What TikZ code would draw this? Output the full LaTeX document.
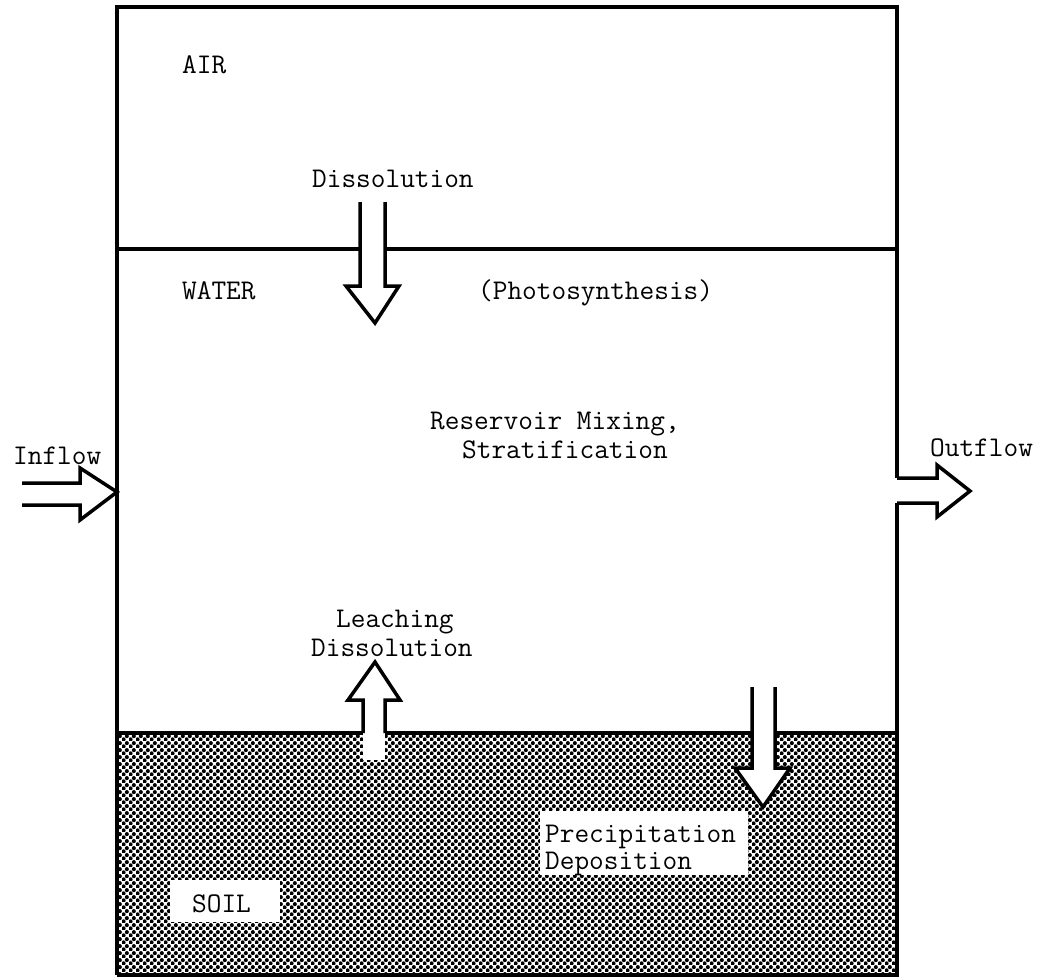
\documentclass[tikz,border=0pt]{standalone}
\usetikzlibrary{patterns.meta}
\tikzdeclarepattern{
  name=soildots,
  type=uncolored,
  bottom left={(0pt,0pt)},
  top right={(7.2pt,7.2pt)},
  tile size={(7.2pt,7.2pt)},
  code={
    \fill (1.8pt,1.8pt) circle (2.25pt);
    \fill (5.4pt,5.4pt) circle (2.25pt);
  }
}
\begin{document}
\begin{tikzpicture}[x=1pt,y=-1pt,
  lbl/.style={font=\ttfamily\fontsize{28.5}{33}\selectfont, inner sep=0pt, anchor=base west},
  edge/.style={line width=3.2pt},
  barrow/.style={line width=3.5pt, line join=miter},
  whitebox/.style={fill=white, draw=none}]
\useasboundingbox (0,0) rectangle (1050,978);
\fill[white] (0,0) rectangle (1050,978);

% soil
\fill[pattern=soildots, pattern color=black] (117,733) rectangle (897,975);
% white cut-outs in soil
\fill[white] (363,733) rectangle (385,760);
\fill[white] (752,733) -- (752,768) -- (735,768) -- (763,807) -- (790,768) -- (775,768) -- (775,733) -- cycle;
\fill[whitebox] (540,811) rectangle (748,875);
\fill[whitebox] (170,880) rectangle (280,922);

% outer frame
\draw[edge] (117,975) -- (117,7) -- (897,7) -- (897,478);
\draw[edge] (897,503) -- (897,975) -- (117,975);
% air / water boundary
\draw[edge] (117,249) -- (360,249);
\draw[edge] (385,249) -- (897,249);
% water / soil boundary
\draw[edge] (117,733) -- (363,733);
\draw[edge] (385,733) -- (752,733);
\draw[edge] (775,733) -- (897,733);

% dissolution arrow (air -> water)
\draw[barrow] (360,202) -- (360,286) -- (346,286) -- (375,323) -- (399,286) -- (385,286) -- (385,202);
% leaching arrow (soil -> water)
\draw[barrow] (363,733) -- (363,700) -- (348,700) -- (375,662) -- (400,700) -- (385,700) -- (385,733);
% precipitation arrow (water -> soil)
\draw[barrow] (752,687) -- (752,768) -- (735,768) -- (763,807) -- (790,768) -- (775,768) -- (775,687);
% inflow arrow
\draw[barrow] (22,483) -- (80,483) -- (80,468) -- (117,492) -- (80,520) -- (80,505) -- (22,505);
% outflow arrow
\draw[barrow] (897,478) -- (937,478) -- (937,465) -- (970,491) -- (937,517) -- (937,503) -- (897,503);

% labels
\node[lbl] (air) at (182,73) {AIR};
\node[lbl] (diss1) at (312,187) {Dissolution};
\node[lbl] (water) at (182,299) {WATER};
\node[lbl] (photo) at (478,299) {(Photosynthesis)};
\node[lbl] (mix) at (430,429) {Reservoir Mixing,};
\node[lbl] (strat) at (462,458) {Stratification};
\node[lbl] (inflow) at (13,464) {Inflow};
\node[lbl] (outflow) at (930,456) {Outflow};
\node[lbl] (leach) at (336,627) {Leaching};
\node[lbl] (diss2) at (311,656) {Dissolution};
\node[lbl] (precip) at (545,842) {Precipitation};
\node[lbl] (depo) at (545,869) {Deposition};
\node[lbl] (soil) at (192,912) {SOIL};
\end{tikzpicture}
\end{document}
